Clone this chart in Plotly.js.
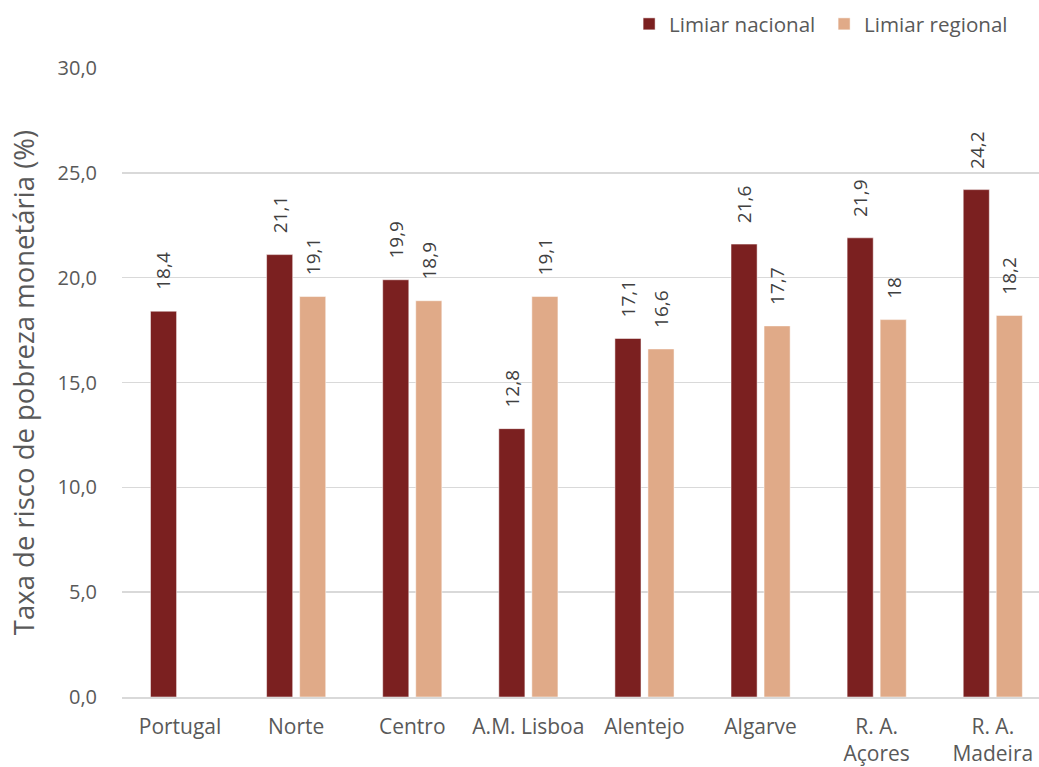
<!DOCTYPE html>
<html>
<head>
<meta charset="utf-8">
<script src="https://cdn.plot.ly/plotly-3.0.1.min.js"></script>
<style>html,body{margin:0;padding:0;background:#fff;}#chart{width:1039px;height:767px;}</style>
</head>
<body>
<div id="chart"></div>
<script>
const categories = ["Portugal", "Norte", "Centro", "A.M. Lisboa", "Alentejo", "Algarve", "R. A.<br>Açores", "R. A.<br>Madeira"];
const nacional = [18.4, 21.1, 19.9, 12.8, 17.1, 21.6, 21.9, 24.2];
const regional = [null, 19.1, 18.9, 19.1, 16.6, 17.7, 18.0, 18.2];
const nacionalLabels = ["18,4", "21,1", "19,9", "12,8", "17,1", "21,6", "21,9", "24,2"];
const regionalLabels = ["", "19,1", "18,9", "19,1", "16,6", "17,7", "18", "18,2"];
const yTicks = [0, 5, 10, 15, 20, 25, 30];

const font = "Open Sans, Lato, sans-serif";
const grey = "#595959";

const traces = [
  {type: "bar", name: "Limiar nacional", x: categories, y: nacional,
   marker: {color: "#7B2020", line: {color: "#ffffff", width: 0.5}}, hoverinfo: "x+y"},
  {type: "bar", name: "Limiar regional", x: categories, y: regional,
   marker: {color: "#E0AA88", line: {color: "#ffffff", width: 0.5}}, hoverinfo: "x+y"}
];

const annotations = [];
function addLabels(vals, labels, xshift) {
  vals.forEach((v, i) => {
    if (v === null || labels[i] === "") return;
    annotations.push({x: categories[i], y: v, xref: "x", yref: "y", text: labels[i],
      textangle: -90, showarrow: false, xanchor: "center", yanchor: "bottom",
      xshift: xshift, yshift: 19, font: {family: font, size: 19, color: "#404040"}});
  });
}
addLabels(nacional, nacionalLabels, -16.5);
addLabels(regional, regionalLabels, 16.5);

const layout = {
  width: 1039, height: 767,
  margin: {l: 122, r: 0, t: 68, b: 70},
  paper_bgcolor: "#fff", plot_bgcolor: "#fff",
  separators: ",.",
  font: {family: font, color: grey, size: 21},
  barmode: "group", bargap: 0.431, bargroupgap: 0.21,
  showlegend: true,
  legend: {orientation: "h", x: 0.553, xanchor: "left", y: 1.07, yanchor: "middle",
           entrywidth: 150, entrywidthmode: "pixels",
           font: {family: font, size: 20.6, color: grey}, traceorder: "normal"},
  annotations: annotations,
  xaxis: {type: "category", range: [-0.5, 7.398], showline: true, linecolor: "#d9d9d9", linewidth: 1.5,
          ticks: "outside", ticklen: 10, tickcolor: "rgba(0,0,0,0)",
          tickfont: {family: font, size: 21, color: grey}, showgrid: false, fixedrange: true},
  yaxis: {range: [0, 30], tickvals: yTicks, tickformat: ".1f", showgrid: true, gridcolor: "#d9d9d9",
          gridwidth: 1.5, zeroline: false, ticks: "outside", ticklen: 20, tickcolor: "rgba(0,0,0,0)",
          tickfont: {family: font, size: 20, color: grey},
          title: {text: "Taxa de risco de pobreza monetária (%)", font: {family: font, size: 27.5, color: grey}, standoff: 14},
          fixedrange: true}
};

Plotly.newPlot("chart", traces, layout, {displayModeBar: false, staticPlot: true});
</script>
</body>
</html>
